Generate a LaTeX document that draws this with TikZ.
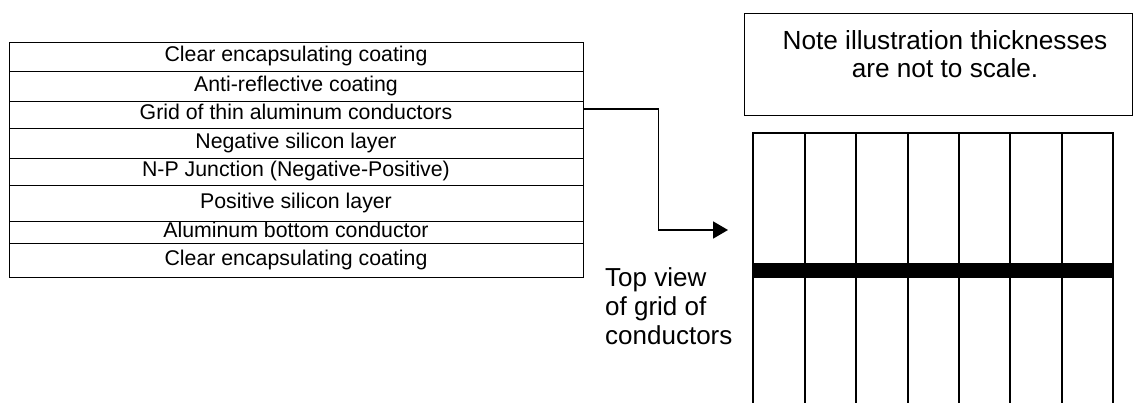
\documentclass[tikz,border=0pt]{standalone}
\usepackage{fontspec}
\setmainfont{Liberation Sans}
\usetikzlibrary{arrows.meta, positioning}

\tikzset{
  layer/.style={draw, line width=0.8pt, minimum width=574pt, inner sep=0pt,
    text height=15pt, text depth=4.5pt, font=\fontsize{21.3}{24}\selectfont},
  notebox/.style={draw, line width=0.8pt, minimum width=388pt, minimum height=102pt},
  bigtext/.style={inner sep=0pt, font=\fontsize{26.2}{27.5}\selectfont},
  gridline/.style={line width=1.2pt},
  connector/.style={line width=1.8pt, -{Triangle[length=15pt, width=17pt]}}
}

\begin{document}
\begin{tikzpicture}[x=1pt, y=-1pt]
    \useasboundingbox (0,0) rectangle (1133,403);
    \foreach \n/\ya/\yb/\txt in {1/42/71/Clear encapsulating coating,
        2/71/101/Anti-reflective coating,
        3/101/128/Grid of thin aluminum conductors,
        4/128/158/Negative silicon layer,
        5/158/185/N-P Junction (Negative-Positive),
        6/185/221/Positive silicon layer,
        7/221/243/Aluminum bottom conductor,
        8/243/277/Clear encapsulating coating}
      \node[layer, minimum height={(\yb-\ya)*1pt}] (layer\n) at (296, {(\ya+\yb)/2}) {\txt};

    \node[notebox] (note) at (938,64) {};
    \node[bigtext, align=center, below=18pt of note.north, xshift=7pt] (notetext)
      {Note illustration thicknesses\\are not to scale.};

    \draw[gridline] (753,410) -- (753,133) -- (1113,133) -- (1113,410);
    \foreach \x in {805,856,908,959,1010,1062}
      \draw[gridline] (\x,133) -- (\x,410);
    \fill (753,263) rectangle (1113,278);

    \coordinate (tip) at (728,230);
    \draw[connector] ([yshift=5.5pt]layer3.east) -- ++(75,0) |- (tip);

    \node[bigtext, font=\fontsize{26}{29}\selectfont, align=left, anchor=north west]
      (topview) at (605,267) {Top view\\of grid of\\conductors};
\end{tikzpicture}
\end{document}
